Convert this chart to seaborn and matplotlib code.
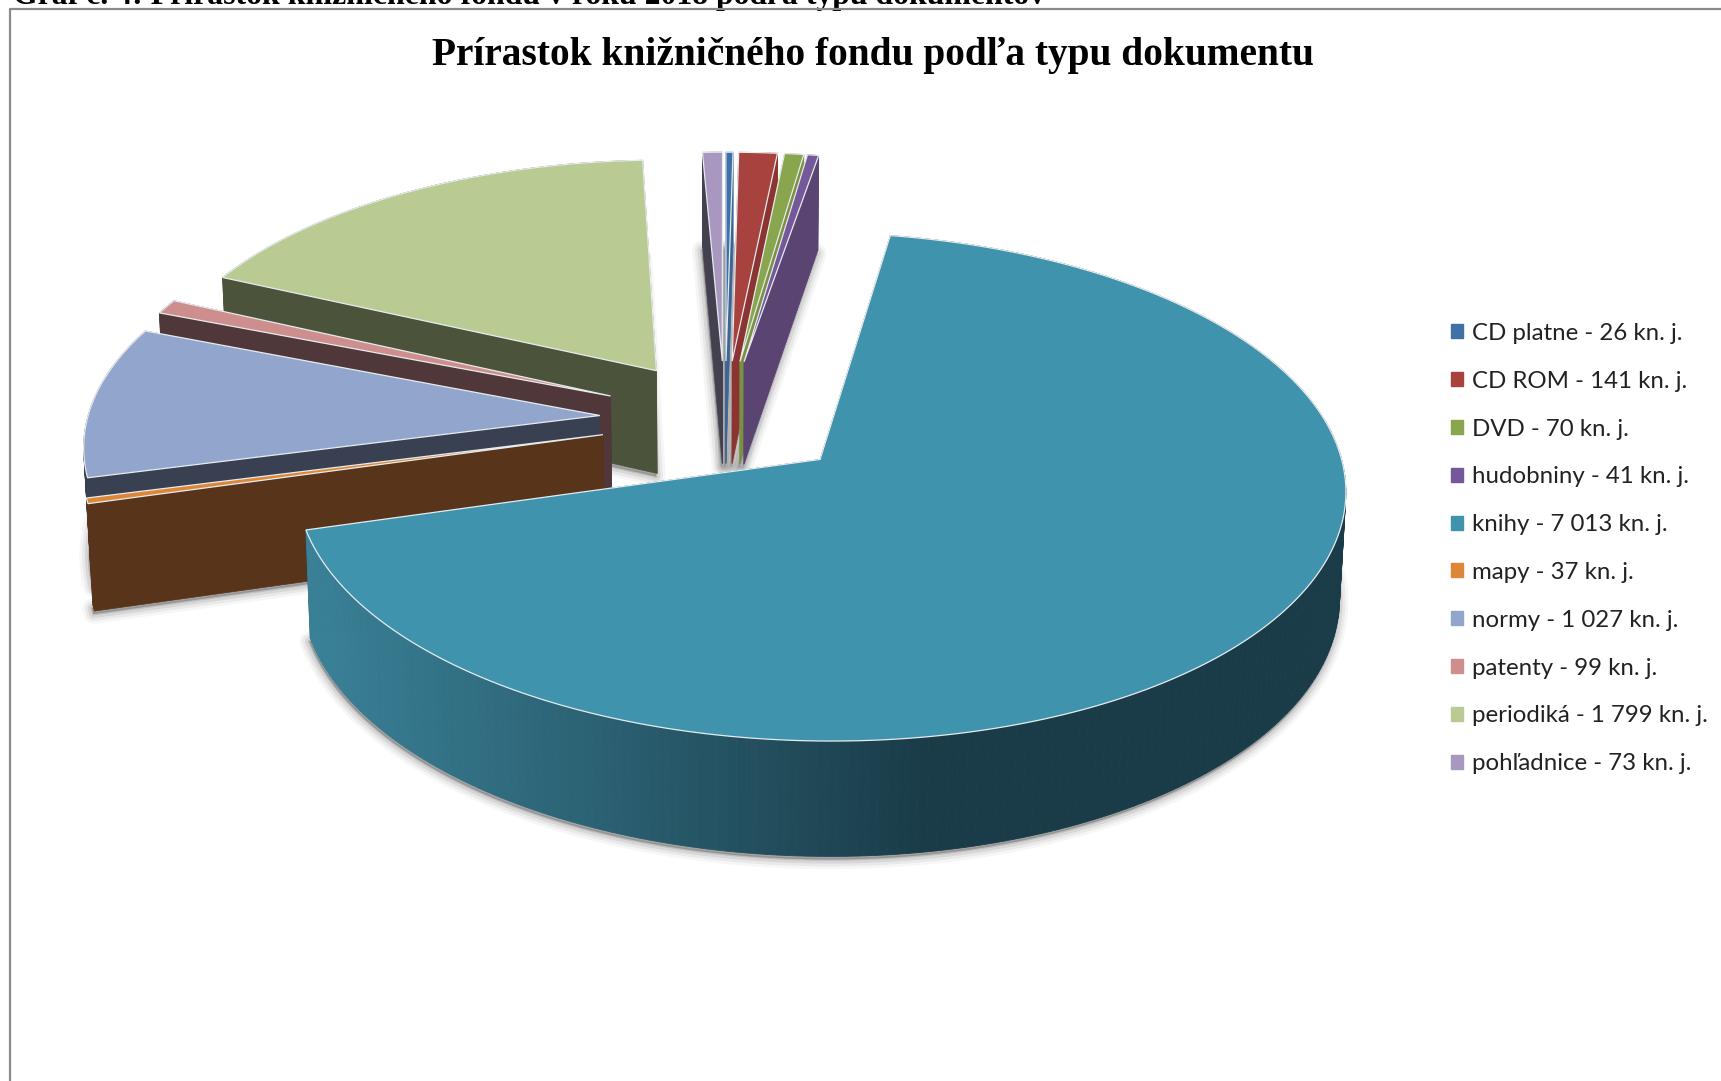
import numpy as np
import seaborn as sns
import matplotlib.pyplot as plt
from matplotlib.patches import Patch, Polygon

sns.set_theme(style="white")

names = ["CD platne", "CD ROM", "DVD", "hudobniny", "knihy", "mapy", "normy", "patenty", "periodiká", "pohľadnice"]
values = [26, 141, 70, 41, 7013, 37, 1027, 99, 1799, 73]
top_colors = ["#3F70A8", "#A8423F", "#89A54E", "#75589A", "#3F93AD", "#DE8638", "#92A6CD", "#CE8E8E", "#B9CB93", "#A898BF"]
wall_colors = ["#3A6595", "#8C3432", "#7A9140", "#5A4472", "#1E4653", "#57341A", "#394052", "#50383A", "#4B533A", "#444050"]
draw_order = [9, 0, 1, 2, 3, 8, 7, 6, 5, 4]

title = "Prírastok knižničného fondu podľa typu dokumentu"
caption = "Graf č. 4: Prírastok knižničného fondu v roku 2018 podľa typu dokumentov"

# perspective of the pie, in pixels of the figure
cx, cy = 725.0, 419.0
rx, ry = 512.5, 242.6
tilt = 0.106
depth = 105.5
depth_tilt = 0.01
explode = 0.245
start_angle = 90.0


def project(x, y, z=0.0):
    w = 1 + tilt * y + depth_tilt * z
    return np.column_stack([cx + rx * x / w, cy + (-ry * y + depth * z) / w])


fig = plt.figure(figsize=(17.21, 10.81), dpi=100)
ax = fig.add_axes([0, 0, 1, 1])
ax.set_xlim(0, 1721)
ax.set_ylim(1081, 0)
ax.axis("off")

# slice angles, clockwise from the top
sweeps = 360 * np.array(values) / sum(values)
ends = start_angle - np.cumsum(sweeps)
starts = ends + sweeps

slices = {}
for i in range(len(values)):
    theta = np.radians(np.linspace(starts[i], ends[i], max(3, int(sweeps[i]) + 2)))
    mid = np.radians((starts[i] + ends[i]) / 2)
    ox, oy = explode * np.cos(mid), explode * np.sin(mid)
    xs = np.r_[ox, ox + np.cos(theta)]
    ys = np.r_[oy, oy + np.sin(theta)]
    slices[i] = (xs, ys)

# soft shadow under the bottom faces
for i in draw_order:
    xs, ys = slices[i]
    bottom = project(xs, ys, 1.0) + np.array([-1, 3])
    for lw, alpha in [(14, 0.05), (10, 0.08), (6, 0.12), (2, 0.2)]:
        ax.add_patch(Polygon(bottom, closed=True, fc="#555555", ec="#555555", lw=lw, alpha=alpha, joinstyle="round", zorder=1))

z = 2
for i in draw_order:
    xs, ys = slices[i]
    top = project(xs, ys)
    low = project(xs, ys, 1.0)
    n = len(xs)
    # cut sides and rim
    for a, b in [(0, 1), (n - 1, 0)]:
        ax.add_patch(Polygon([top[a], top[b], low[b], low[a]], closed=True, fc=wall_colors[i], ec=wall_colors[i], lw=0.5, zorder=z))
    for j in range(1, n - 1):
        face = wall_colors[i]
        if names[i] == "knihy":
            t = np.clip((top[j, 0] - 310) / 620, 0, 1)
            face = np.array([0.227, 0.506, 0.596]) * (1 - t) + np.array([0.102, 0.235, 0.282]) * t
        ax.add_patch(Polygon([top[j], top[j + 1], low[j + 1], low[j]], closed=True, fc=face, ec=face, lw=0.6, zorder=z))
    ax.add_patch(Polygon(top, closed=True, fc=top_colors[i], ec="#E6EBEE", lw=0.9, zorder=z + 1))
    z += 2

# frame of the chart and the cut off caption above it
ax.plot([10, 10, 1721], [1081, 9, 9], color="#8A8A8A", lw=1.6, zorder=z)
ax.text(13, 4, caption, family="Liberation Serif", weight="bold", fontsize=22.9, color="black", va="baseline", ha="left")
ax.text(873, 56, title, family="Liberation Serif", weight="bold", fontsize=28.4, color="black", va="center", ha="center")

labels = [f"{n} - {v:,} kn. j.".replace(",", " ") for n, v in zip(names, values)]
handles = [Patch(color=c) for c in top_colors]
ax.legend(handles, labels, loc="upper left", bbox_to_anchor=(1451, 323), bbox_transform=ax.transData,
          frameon=False, prop={"family": "Lato", "size": 17.3}, labelcolor="#222222",
          handlelength=0.52, handleheight=0.52, handletextpad=0.34, labelspacing=1.115, borderpad=0, borderaxespad=0)

plt.savefig("out.png", dpi=100)
